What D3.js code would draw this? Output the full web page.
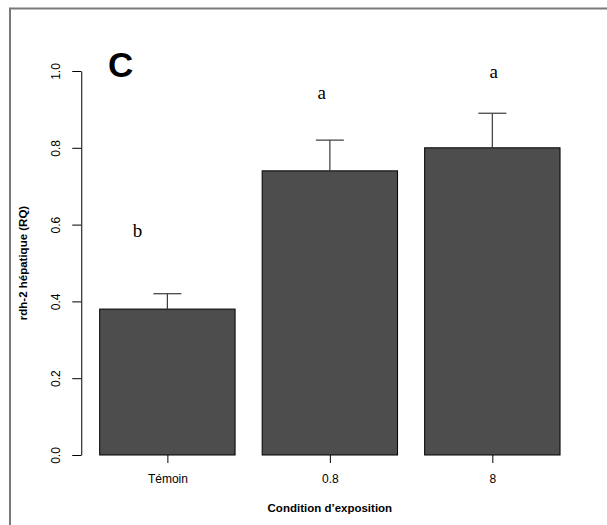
<!DOCTYPE html>
<html>
<head>
<meta charset="utf-8">
<script src="https://cdn.jsdelivr.net/npm/d3@7"></script>
<style>
  body { margin: 0; background: #fff; }
  svg { display: block; }
</style>
</head>
<body>
<div id="vis"></div>
<script>
// data
let categories = ["Témoin", "0.8", "8"]
let values = [0.38, 0.74, 0.80]
let errors = [0.04, 0.08, 0.09]
let letters = ["b", "a", "a"]
// letter positions in bar units (x) and value units (y), as placed in the original
let letterX = [0.48, 1.84, 3.11]
let letterY = [0.585, 0.945, 1.0]
let yTicks = [0, 0.2, 0.4, 0.6, 0.8, 1.0]

let svgWidth = 607
let svgHeight = 525

let svg = d3.select('#vis')
    .append('svg')
    .attr('width', svgWidth)
    .attr('height', svgHeight)

// outer frame (right and bottom edges fall outside the picture)
svg.append('rect')
    .attr('x', 10)
    .attr('y', 8.5)
    .attr('width', 620)
    .attr('height', 540)
    .attr('fill', 'none')
    .attr('stroke', '#7a7a7a')
    .attr('stroke-width', 2)

// scales: bar units like R's barplot (width 1, space 0.2)
let space = 0.2
let barW = 1
let xScale = d3.scaleLinear()
    .domain([0, 1])
    .range([72.6, 72.6 + 135.4])
let yScale = d3.scaleLinear()
    .domain([0, 1])
    .range([455, 71])

let barLeft = (d, i) => space + i * (barW + space)
let barMid = (d, i) => barLeft(d, i) + barW / 2
let plotLeft = xScale(0.064)
let plotRight = xScale(3.736)

// bars
svg.selectAll('rect.bar')
    .data(values)
    .join('rect')
    .attr('class', 'bar')
    .attr('x', (d, i) => xScale(barLeft(d, i)))
    .attr('width', xScale(barW) - xScale(0))
    .attr('y', d => yScale(d))
    .attr('height', d => yScale(0) - yScale(d))
    .attr('fill', '#4d4d4d')
    .attr('stroke', '#000')
    .attr('stroke-width', 1)

// error bars
let capHalf = 14
let err = svg.selectAll('g.err')
    .data(values)
    .join('g')
    .attr('class', 'err')
    .attr('stroke', '#3a3a3a')
    .attr('stroke-width', 1.2)
err.append('line')
    .attr('x1', (d, i) => xScale(barMid(d, i)))
    .attr('x2', (d, i) => xScale(barMid(d, i)))
    .attr('y1', d => yScale(d))
    .attr('y2', (d, i) => yScale(d + errors[i]))
err.append('line')
    .attr('x1', (d, i) => xScale(barMid(d, i)) - capHalf)
    .attr('x2', (d, i) => xScale(barMid(d, i)) + capHalf)
    .attr('y1', (d, i) => yScale(d + errors[i]))
    .attr('y2', (d, i) => yScale(d + errors[i]))

// significance letters
svg.selectAll('text.letter')
    .data(letters)
    .join('text')
    .attr('class', 'letter')
    .attr('x', (d, i) => xScale(letterX[i]))
    .attr('y', (d, i) => yScale(letterY[i]))
    .attr('dy', '0.35em')
    .attr('text-anchor', 'middle')
    .attr('font-family', 'Liberation Serif, Times New Roman, serif')
    .attr('font-size', 19)
    .attr('fill', '#000')
    .text(d => d)

// y axis
let yAxis = d3.axisLeft(yScale)
    .tickValues(yTicks)
    .tickFormat(d3.format('.1f'))
    .tickSize(9)
    .tickSizeOuter(0)

let yG = svg.append('g')
    .attr('id', 'y-axis')
    .attr('transform', `translate(${plotLeft},0)`)
    .call(yAxis)
yG.selectAll('path, line').attr('stroke', '#000')
yG.selectAll('text')
    .attr('font-family', 'Liberation Sans, Arial, sans-serif')
    .attr('font-size', 12)
    .attr('fill', '#000')
    .attr('text-anchor', 'middle')
    .attr('x', 0)
    .attr('y', 0)
    .attr('dy', '0.35em')
    .attr('transform', 'translate(-25,0) rotate(-90)')

// x axis: ticks only, no baseline
let xAxis = d3.axisBottom(xScale)
    .tickValues(categories.map((d, i) => barMid(d, i)))
    .tickFormat((d, i) => categories[i])
    .tickSize(8)
    .tickSizeOuter(0)
    .tickPadding(11)

let xG = svg.append('g')
    .attr('id', 'x-axis')
    .attr('transform', `translate(0,${yScale(0)})`)
    .call(xAxis)
xG.select('.domain').remove()
xG.selectAll('line').attr('stroke', '#000')
xG.selectAll('text')
    .attr('font-family', 'Liberation Sans, Arial, sans-serif')
    .attr('font-size', 12)
    .attr('fill', '#000')

// axis titles
svg.append('text')
    .attr('x', (plotLeft + plotRight) / 2)
    .attr('y', 512)
    .attr('text-anchor', 'middle')
    .attr('font-family', 'Liberation Sans, Arial, sans-serif')
    .attr('font-weight', 'bold')
    .attr('font-size', 11.5)
    .text('Condition d\u2019exposition')

svg.append('text')
    .attr('transform', `translate(27,${(yScale(0) + yScale(1)) / 2}) rotate(-90)`)
    .attr('text-anchor', 'middle')
    .attr('font-family', 'Liberation Sans, Arial, sans-serif')
    .attr('font-weight', 'bold')
    .attr('font-size', 11.5)
    .text('rdh-2 hépatique (RQ)')

// panel letter
svg.append('text')
    .attr('x', 108)
    .attr('y', 77)
    .attr('font-family', 'Liberation Sans, Arial, sans-serif')
    .attr('font-weight', 'bold')
    .attr('font-size', 35)
    .text('C')
</script>
</body>
</html>
